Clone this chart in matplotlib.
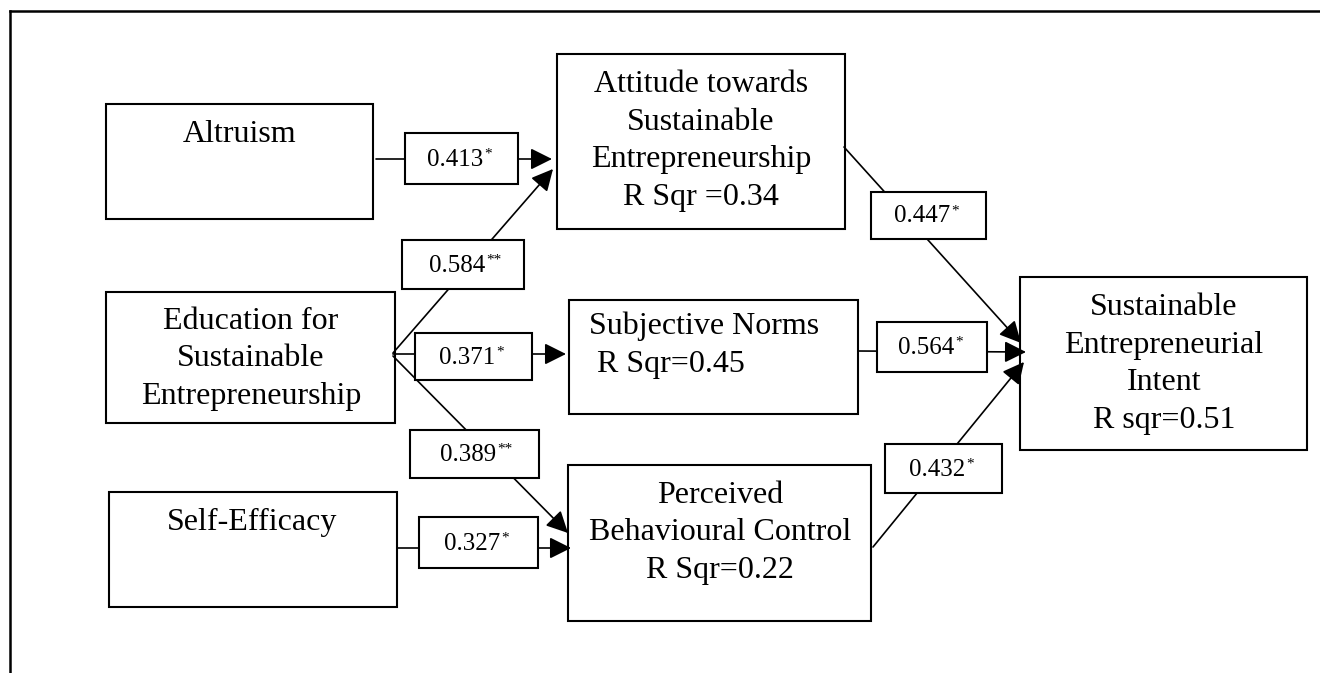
import matplotlib.pyplot as plt
from matplotlib.patches import Rectangle, FancyArrowPatch

plt.rcParams['font.family'] = ['Liberation Serif', 'DejaVu Serif']

# --- data: constructs, R squared, path coefficients ---
node_keys = ['altruism', 'attitude', 'education', 'subjective', 'self', 'pbc', 'sei']
node_labels = ['Altruism',
               'Attitude towards\nSustainable\nEntrepreneurship\nR Sqr =0.34',
               'Education for\nSustainable\nEntrepreneurship',
               'Subjective Norms\n R Sqr=0.45',
               'Self-Efficacy',
               'Perceived\nBehavioural Control\nR Sqr=0.22',
               'Sustainable\nEntrepreneurial\nIntent\nR sqr=0.51']

path_from = ['altruism', 'education', 'education', 'education', 'self', 'attitude', 'subjective', 'pbc']
path_to = ['attitude', 'attitude', 'subjective', 'pbc', 'pbc', 'sei', 'sei', 'sei']
path_coef = ['0.413', '0.584', '0.371', '0.389', '0.327', '0.447', '0.564', '0.432']
path_sig = ['*', '**', '*', '**', '*', '*', '*', '*']

# --- layout (pixel coords, y down) ---
node_box = {
    'altruism': (106, 104, 373, 219),
    'attitude': (557, 54, 845, 229),
    'education': (106, 292, 395, 423),
    'subjective': (569, 300, 858, 414),
    'self': (109, 492, 397, 607),
    'pbc': (568, 465, 871, 621),
    'sei': (1020, 277, 1307, 450),
}
# text anchor: (x, y, ha)
node_text = {
    'altruism': (240, 135, 'center'),
    'attitude': (701, 141, 'center'),
    'education': (251, 359, 'center'),
    'subjective': (589, 345, 'left'),
    'self': (252, 522, 'center'),
    'pbc': (720, 533, 'center'),
    'sei': (1164, 364, 'center'),
}
# start point, arrow tip, label box
edge_geom = [
    ((376, 159), (552, 159), (405, 133, 518, 184)),
    ((393, 353), (553, 169), (402, 240, 524, 289)),
    ((393, 354), (566, 354), (415, 333, 532, 380)),
    ((393, 356), (568, 533), (410, 430, 539, 478)),
    ((398, 548), (571, 548), (419, 517, 538, 568)),
    ((844, 147), (1021, 343), (871, 192, 986, 239)),
    ((858, 351), (1026, 352), (877, 322, 987, 372)),
    ((873, 547), (1024, 362), (885, 444, 1002, 493)),
]

fig = plt.figure(figsize=(13.2, 6.73), dpi=100)
ax = fig.add_axes([0, 0, 1, 1])
ax.set_xlim(0, 1320)
ax.set_ylim(673, 0)
ax.axis('off')

# outer frame (top and left only)
ax.plot([10, 1320], [11, 11], color='black', lw=1.8)
ax.plot([10, 10], [11, 673], color='black', lw=1.8)

# construct boxes
for key, label in zip(node_keys, node_labels):
    x0, y0, x1, y1 = node_box[key]
    ax.add_patch(Rectangle((x0, y0), x1 - x0, y1 - y0, fill=False,
                           edgecolor='black', lw=1.5, zorder=2))
    tx, ty, ha = node_text[key]
    ax.text(tx, ty, label, ha=ha, va='center', fontsize=23,
            linespacing=1.4, multialignment=ha, zorder=3)

# paths with coefficient boxes
for (p0, p1, lb), coef, sig in zip(edge_geom, path_coef, path_sig):
    arr = FancyArrowPatch(p0, p1, arrowstyle='-|>', mutation_scale=33,
                          shrinkA=0, shrinkB=0, color='black', lw=1.2, zorder=1)
    ax.add_patch(arr)
    x0, y0, x1, y1 = lb
    ax.add_patch(Rectangle((x0, y0), x1 - x0, y1 - y0, facecolor='white',
                           edgecolor='black', lw=1.5, zorder=4))
    cx = (x0 + x1) / 2 - 6
    cy = (y0 + y1) / 2 + 1
    t = ax.text(cx, cy, coef, ha='center', va='center', fontsize=18, zorder=5)
    ax.annotate(sig, xy=(1, 1), xycoords=t, xytext=(0.5, 1), textcoords='offset points',
                ha='left', va='top', fontsize=11, zorder=5)

fig.savefig('out.png', dpi=100)
